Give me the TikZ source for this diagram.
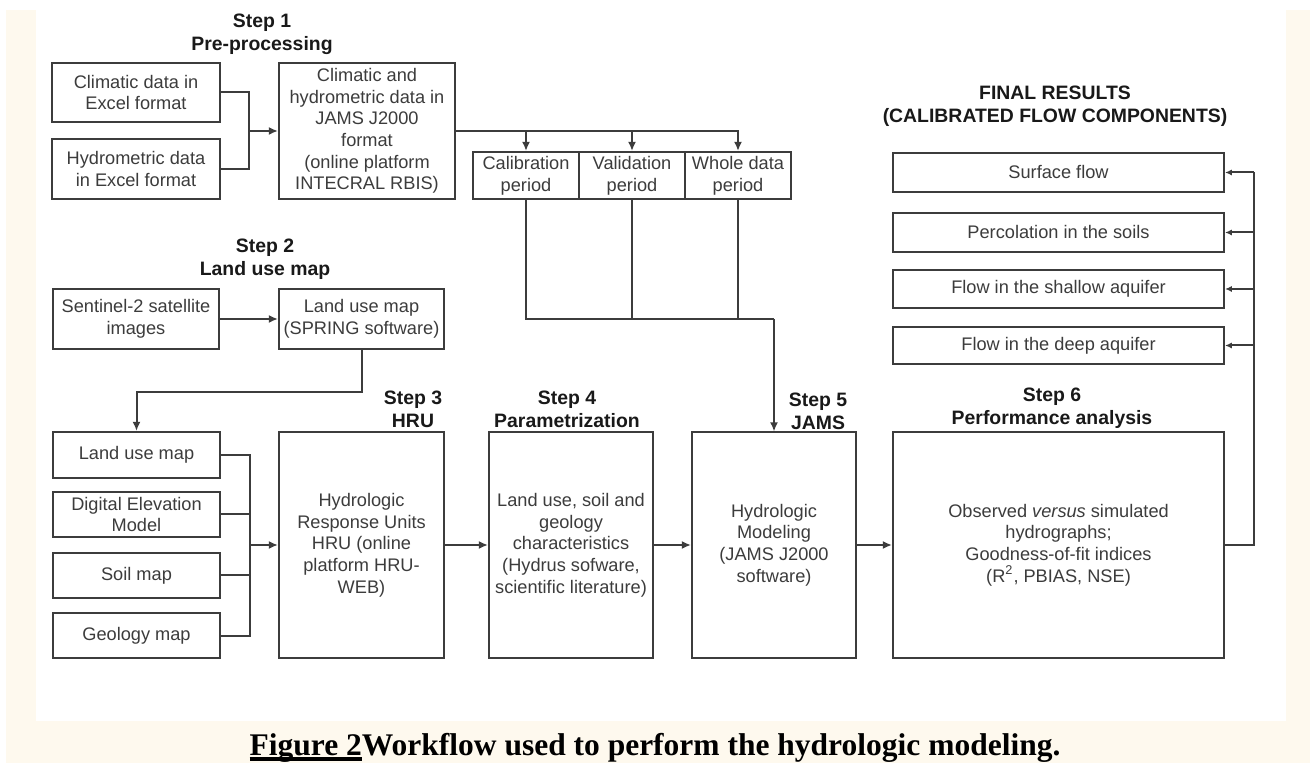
\documentclass[tikz,border=0pt]{standalone}
\usepackage{fontspec}
\setmainfont{Liberation Sans}
\newfontfamily\capfont{Liberation Serif}
\usetikzlibrary{arrows.meta}

\definecolor{cream}{RGB}{254,249,238}
\definecolor{linec}{RGB}{60,60,60}
\definecolor{txtc}{RGB}{60,60,60}
\definecolor{hdc}{RGB}{25,25,25}

\newcommand\figul[1]{\setbox0=\hbox{#1}\rlap{\rule[-3pt]{\wd0}{1.8pt}}\box0}

\begin{document}
\begin{tikzpicture}[x=0.5pt, y=-0.5pt, >={Latex[length=4.6pt,width=4pt]},
    blk/.style 2 args={draw=linec, line width=1pt, fill=white, text=txtc, align=center,
        inner sep=0pt, minimum width=#1*0.5pt, minimum height=#2*0.5pt,
        font=\fontsize{9.1}{10.85}\selectfont},
    hd/.style={align=center, text=hdc, font=\bfseries\fontsize{9.7}{11.5}\selectfont},
    wire/.style={draw=linec, line width=1pt}]

    \useasboundingbox (0,0) rectangle (1310,763);
    \fill[cream] (6,10) rectangle (1310,763);
    \fill[white] (36,0) rectangle (1286,721);

    % step 1
    \node[hd] (h1) at (262,34) {Step 1\\Pre-processing};
    \node[blk={168}{59}] (clim) at (136,92.5) {Climatic data in\\Excel format};
    \node[blk={168}{60}] (hydro) at (136,169) {Hydrometric data\\in Excel format};
    \node[blk={176}{136}] (jdata) at (367,131) {Climatic and\\hydrometric data in\\JAMS J2000\\format\\(online platform\\INTECRAL RBIS)};
    \node[blk={106}{47}] (calib) at (526,175.5) {Calibration\\period};
    \node[blk={106}{47}] (valid) at (632,175.5) {Validation\\period};
    \node[blk={106}{47}] (whole) at (738,175.5) {Whole data\\period};

    % step 2
    \node[hd] (h2) at (265,259.5) {Step 2\\Land use map};
    \node[blk={166}{60}] (senti) at (136,319) {Sentinel-2 satellite\\images};
    \node[blk={165}{60}] (spring) at (361.5,319) {Land use map\\(SPRING software)};

    \node[blk={167}{46}] (lum) at (136.5,455) {Land use map};
    \node[blk={167}{45}] (dem) at (136.5,514.5) {Digital Elevation\\Model};
    \node[blk={167}{45}] (soil) at (136.5,575.5) {Soil map};
    \node[blk={167}{45}] (geo) at (136.5,635.5) {Geology map};

    % steps 3 to 6
    \node[hd] (h3) at (413,409) {Step 3\\HRU};
    \node[blk={165}{225}] (hru) at (361.5,545) {Hydrologic\\Response Units\\HRU (online\\platform HRU-\\WEB)};
    \node[hd] (h4) at (567,409) {Step 4\\Parametrization};
    \node[blk={164}{225}] (param) at (571,545) {Land use, soil and\\geology\\characteristics\\(Hydrus sofware,\\scientific literature)};
    \node[hd] (h5) at (818,411) {Step 5\\JAMS};
    \node[blk={164}{225}] (model) at (774,545) {Hydrologic\\Modeling\\(JAMS J2000\\software)};
    \node[hd] (h6) at (1052,408.5) {Step 6\\Performance analysis};
    \node[blk={331}{225}] (perf) at (1058.5,545) {Observed \textit{versus} simulated\\hydrographs;\\Goodness-of-fit indices\\(R\textsuperscript{2}, PBIAS, NSE)};

    % final results
    \node[hd] (hf) at (1055,106.5) {FINAL RESULTS\\(CALIBRATED FLOW COMPONENTS)};
    \node[blk={331}{39}] (surf) at (1058.5,172.5) {Surface flow};
    \node[blk={331}{39}] (perc) at (1058.5,232.5) {Percolation in the soils};
    \node[blk={331}{38}] (shal) at (1058.5,289) {Flow in the shallow aquifer};
    \node[blk={331}{37}] (deep) at (1058.5,345.5) {Flow in the deep aquifer};

    % connectors
    \coordinate (j1) at (249,131);
    \draw[wire] (clim.east) -| (j1) |- (hydro.east);
    \draw[wire,->] (j1) -- (jdata.west);
    \draw[wire,->] (jdata.east) -| (whole.north);
    \draw[wire,->] (calib.north |- jdata.east) -- (calib.north);
    \draw[wire,->] (valid.north |- jdata.east) -- (valid.north);

    \coordinate (j2) at (774,319);
    \draw[wire] (calib.south) |- (j2);
    \draw[wire] (valid.south) -- (valid.south |- j2);
    \draw[wire] (whole.south) -- (whole.south |- j2);
    \draw[wire,->] (j2) -- (model.north);

    \draw[wire,->] (senti) -- (spring);
    \draw[wire,->] (spring.south) -- ++(0,42) -| (lum.north);

    \coordinate (j4) at (250,545);
    \foreach \n in {lum,dem,soil,geo} \draw[wire] (\n.east) -| (j4);
    \draw[wire,->] (j4) -- (hru.west);
    \draw[wire,->] (hru) -- (param);
    \draw[wire,->] (param) -- (model);
    \draw[wire,->] (model) -- (perf);

    \coordinate (j5) at (1254,172.5);
    \draw[wire] (perf.east) -| (j5);
    \foreach \n in {surf,perc,shal,deep}
        \draw[wire,-{Latex[length=3.4pt,width=3pt]}] (\n.east -| j5) -- (\n.east);

    % caption
    \node[anchor=base, font=\capfont\bfseries\fontsize{15.75}{18}\selectfont] (cap) at (655,755)
        {\figul{Figure 2}Workflow used to perform the hydrologic modeling.};
\end{tikzpicture}
\end{document}
